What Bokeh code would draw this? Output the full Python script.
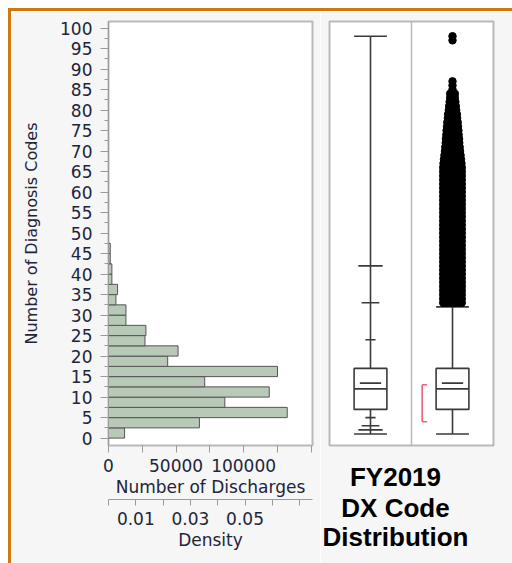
import numpy as np
from bokeh.plotting import figure
from bokeh.models import (Range1d, LinearAxis, FixedTicker, SingleIntervalTicker,
                          Span, Title, NumeralTickFormatter)
from bokeh.layouts import row
from bokeh.embed import file_html
from bokeh.resources import INLINE

# ---------------- data ----------------
bin_start = 0.0
bin_width = 2.5
hist_counts = [11900, 67300, 132300, 86100, 119000, 71200, 125100, 43800, 51500,
               27000, 27700, 12900, 12900, 5500, 6700, 2500, 2500, 1300, 1300]

quantile_levels = [0, 0.5, 2.5, 10, 25, 50, 75, 90, 97.5, 99.5, 100]
quantile_values = [1, 2, 3, 5, 7, 12, 17, 24, 33, 42, 98]
mean_value = 13.4
upper_fence = 32
lower_whisker = 1
shortest_half = [4, 13]

outlier_values = list(range(33, 88)) + [97, 98]
outlier_counts = [3000, 2600, 2300, 2200, 2100, 1300, 1200, 900, 850, 800,
                  700, 650, 550, 480, 420, 360, 310, 270, 230, 200,
                  175, 150, 130, 115, 100, 90, 80, 70, 62, 55,
                  48, 43, 38, 34, 30, 27, 24, 21, 19, 17,
                  16, 14, 13, 11, 10, 8, 7, 5, 4, 3,
                  2, 2, 1, 1, 1, 1, 1]

count_ticks = [0, 50000, 100000]
count_minor_ticks = [25000, 75000, 125000, 150000]
density_ticks = [0.01, 0.03, 0.05]
density_minor_ticks = [0.0, 0.02, 0.04, 0.06, 0.07]

y_title = "Number of Diagnosis Codes"
x_title = "Number of Discharges"
density_title = "Density"
chart_title = ["FY2019", "DX Code", "Distribution"]

# ---------------- style ----------------
FONT = "DejaVu Sans"
TXT = "#22253a"
BG = "#f6f6f6"
FRAME = "#b9b9b9"
TICK = "#9a9a9a"
BOXC = "#3a3a3a"
ORANGE = "#d2770f"
FIG_H = 558
BORDER_BOTTOM = 124

n_total = sum(hist_counts)
count_max = 151000
y_range = Range1d(-1.8, 101.6)

# ---------------- histogram ----------------
pA = figure(width=309, height=FIG_H, x_range=Range1d(0, count_max), y_range=y_range,
            output_backend="svg", toolbar_location=None,
            min_border_left=97, min_border_right=8, min_border_top=10,
            min_border_bottom=BORDER_BOTTOM,
            background_fill_color="white", border_fill_color=BG,
            outline_line_color=FRAME, outline_line_width=2)
pA.grid.visible = False

lo = bin_start + bin_width * np.arange(len(hist_counts))
hi = lo + bin_width
pA.quad(left=0, right=hist_counts, bottom=lo, top=hi,
        fill_color="#b8c9b7", line_color="#555555", line_width=1)

yax = pA.yaxis[0]
yax.ticker = SingleIntervalTicker(interval=5, num_minor_ticks=2)
yax.axis_label = y_title
yax.axis_label_text_font = FONT
yax.axis_label_text_font_size = "16px"
yax.axis_label_text_font_style = "normal"
yax.axis_label_text_color = TXT
yax.axis_label_standoff = 16
yax.major_label_text_font = FONT
yax.major_label_text_font_size = "17px"
yax.major_label_text_color = TXT
yax.major_label_standoff = 8
yax.major_tick_out = 8
yax.major_tick_in = 0
yax.minor_tick_out = 4
yax.minor_tick_in = 0
yax.major_tick_line_color = TICK
yax.minor_tick_line_color = TICK
yax.axis_line_color = TICK

xax = pA.xaxis[0]
xax.ticker = FixedTicker(ticks=count_ticks, minor_ticks=count_minor_ticks)
xax.formatter = NumeralTickFormatter(format="0")
xax.axis_label = x_title
xax.axis_label_text_font = FONT
xax.axis_label_text_font_size = "17px"
xax.axis_label_text_font_style = "normal"
xax.axis_label_text_color = TXT
xax.axis_label_standoff = 2
xax.major_label_text_font = FONT
xax.major_label_text_font_size = "17px"
xax.major_label_text_color = TXT
xax.major_label_standoff = 6
xax.major_tick_out = 7
xax.major_tick_in = 0
xax.minor_tick_out = 7
xax.minor_tick_in = 0
xax.major_tick_line_color = TICK
xax.minor_tick_line_color = TICK
xax.axis_line_color = None

pA.extra_x_ranges = {"density": Range1d(0, count_max / (n_total * bin_width))}
dax = LinearAxis(x_range_name="density")
dax.ticker = FixedTicker(ticks=density_ticks, minor_ticks=density_minor_ticks)
dax.formatter = NumeralTickFormatter(format="0.00")
dax.axis_label = density_title
dax.axis_label_text_font = FONT
dax.axis_label_text_font_size = "17px"
dax.axis_label_text_font_style = "normal"
dax.axis_label_text_color = TXT
dax.axis_label_standoff = 2
dax.major_label_text_font = FONT
dax.major_label_text_font_size = "17px"
dax.major_label_text_color = TXT
dax.major_label_standoff = 6
dax.major_tick_out = 6
dax.major_tick_in = 0
dax.minor_tick_out = 6
dax.minor_tick_in = 0
dax.major_tick_line_color = TICK
dax.minor_tick_line_color = TICK
dax.axis_line_color = TICK
pA.add_layout(dax, "below")

# ---------------- box plots ----------------
pB = figure(width=192, height=FIG_H, x_range=Range1d(0, 2), y_range=y_range,
            output_backend="svg", toolbar_location=None,
            x_axis_location=None, y_axis_location=None,
            min_border_left=9, min_border_right=19, min_border_top=10,
            min_border_bottom=BORDER_BOTTOM,
            background_fill_color="white", border_fill_color=BG,
            outline_line_color=FRAME, outline_line_width=2)
pB.grid.visible = False
pB.add_layout(Span(location=1, dimension="height", line_color=FRAME, line_width=1.5))

q = dict(zip(quantile_levels, quantile_values))
box_half = 0.2
mean_half = 0.13
lw = 1.6

# left: quantile box plot
cx = 0.5
pB.segment(x0=[cx, cx], y0=[q[75], q[0]], x1=[cx, cx], y1=[q[100], q[25]],
           line_color=BOXC, line_width=lw)
pB.quad(left=cx - box_half, right=cx + box_half, bottom=q[25], top=q[75],
        fill_color=None, line_color=BOXC, line_width=lw)
tick_half = {0: 0.2, 0.5: 0.148, 2.5: 0.108, 10: 0.062,
             90: 0.062, 97.5: 0.108, 99.5: 0.148, 100: 0.2}
tk_lv = list(tick_half.keys())
pB.segment(x0=[cx - tick_half[l] for l in tk_lv], x1=[cx + tick_half[l] for l in tk_lv],
           y0=[q[l] for l in tk_lv], y1=[q[l] for l in tk_lv],
           line_color=BOXC, line_width=lw)
pB.segment(x0=[cx - box_half, cx - mean_half], x1=[cx + box_half, cx + mean_half],
           y0=[q[50], mean_value], y1=[q[50], mean_value], line_color=BOXC, line_width=lw)

# right: outlier box plot
cx = 1.5
pB.segment(x0=[cx, cx], y0=[q[75], q[25]], x1=[cx, cx], y1=[upper_fence, lower_whisker],
           line_color=BOXC, line_width=lw)
pB.quad(left=cx - box_half, right=cx + box_half, bottom=q[25], top=q[75],
        fill_color=None, line_color=BOXC, line_width=lw)
pB.segment(x0=[cx - box_half] * 3, x1=[cx + box_half] * 3,
           y0=[q[50], upper_fence, lower_whisker],
           y1=[q[50], upper_fence, lower_whisker],
           line_color=BOXC, line_width=lw)
pB.segment(x0=[cx - mean_half], x1=[cx + mean_half], y0=[mean_value], y1=[mean_value],
           line_color=BOXC, line_width=lw)

# outliers, jittered by count
max_half = 0.113
xs, ys = [], []
for v, c in zip(outlier_values, outlier_counts):
    n = min(c, 6)
    hw = min(max_half, 0.02 * np.sqrt(c))
    offs = [0.0] if n == 1 else np.linspace(-hw, hw, n)
    for o in offs:
        xs.append(cx + o)
        ys.append(v)
pB.scatter(xs, ys, size=7.5, color="black")

# shortest half bracket
bx, btk = 1.13, 0.06
pB.segment(x0=[bx, bx, bx], x1=[bx, bx + btk, bx + btk],
           y0=[shortest_half[0], shortest_half[0], shortest_half[1]],
           y1=[shortest_half[1], shortest_half[0], shortest_half[1]],
           line_color="#f0607a", line_width=1.6)

# bold caption, each line centred at a fixed point left of the frame centre
TITLE_PX = 26
GLYPH_W = {"F": 611, "Y": 667, "D": 722, "X": 667, "C": 722, " ": 278, "0": 556,
           "1": 556, "2": 556, "9": 556, "o": 611, "d": 611, "e": 556, "i": 278,
           "s": 556, "t": 333, "r": 389, "b": 611, "u": 611, "n": 611}
caption_center = 66  # px from frame left
caption_standoff = [28, -30, 24]
for line, so in zip(chart_title, caption_standoff):
    wpx = sum(GLYPH_W.get(ch, 600) for ch in line) / 1000 * TITLE_PX
    t = Title(text=line, align="left", offset=caption_center - wpx / 2, standoff=so,
              text_font="Liberation Sans", text_font_size=f"{TITLE_PX}px",
              text_font_style="bold", text_color="black")
    pB.add_layout(t, "below")

layout = row(pA, pB, styles={"border-top": f"3px solid {ORANGE}",
                             "border-left": f"3px solid {ORANGE}",
                             "margin-left": "8px", "margin-top": "8px"})

open("out.html", "w").write(file_html(layout, INLINE))
